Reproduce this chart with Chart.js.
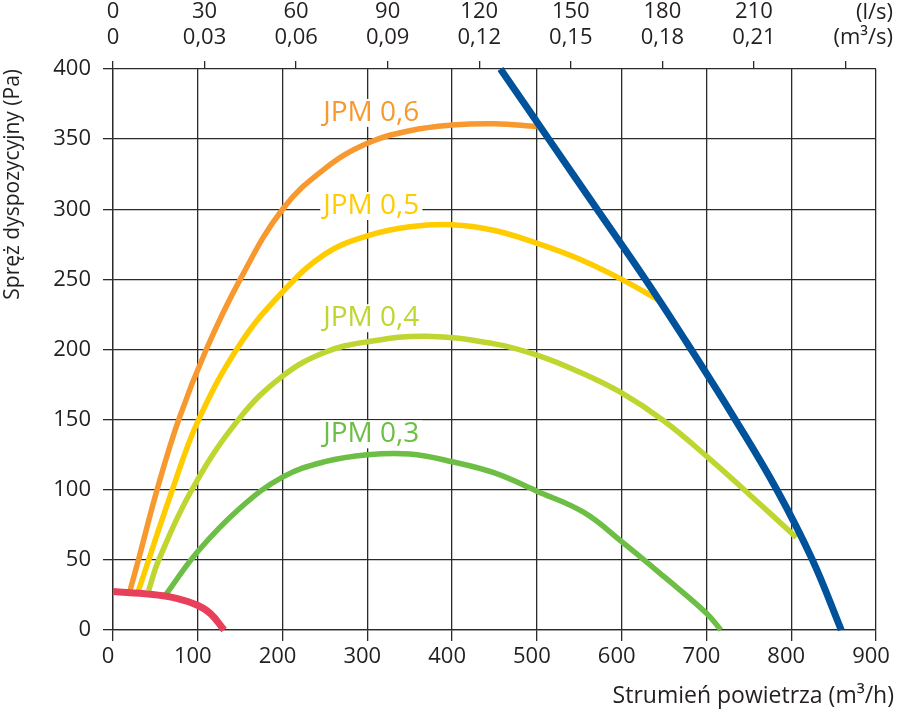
<!DOCTYPE html>
<html>
<head>
<meta charset="utf-8">
<script src="https://cdn.jsdelivr.net/npm/chart.js@4.4.1/dist/chart.umd.min.js"></script>
<style>
  html, body { margin: 0; padding: 0; background: #fff; }
  canvas { display: block; }
</style>
</head>
<body>
<canvas id="wykres" width="901" height="712"></canvas>
<script>
// krzywe wentylatora JPM (m3/h -> Pa)
const jpm06X = [20, 30, 52, 77.5, 110, 150, 200, 250, 300, 350, 400, 450, 500]
const jpm06Y = [28, 50, 100, 150, 200, 250, 300, 329, 347, 356, 360, 361, 359]

const jpm05X = [30, 70, 101, 150, 200, 250, 300, 350, 400, 449, 504, 550, 600, 646]
const jpm05Y = [28, 100, 150, 204, 241, 268, 281, 287.5, 289, 285, 275, 264.5, 250, 234.5]

const jpm04X = [42, 54, 93, 148, 200, 250, 300, 370, 450, 500, 550, 600, 650, 700, 750, 806]
const jpm04Y = [28, 50, 100, 150, 181, 198, 205.5, 209.5, 204, 196, 184, 169, 149, 124, 97, 66]

const jpm03X = [62, 100, 150, 200, 250, 300, 350, 400, 450, 500, 555, 600, 650, 700, 717]
const jpm03Y = [25, 56, 87, 109, 120, 125, 125.5, 120, 112, 99, 84, 63, 38, 12, 0]

// charakterystyka graniczna (niebieska) i dolna (czerwona)
const granicaX = [457, 514, 571, 628, 682, 734, 783, 825, 859]
const granicaY = [400, 350, 300, 250, 200, 150, 100, 50, 0]

const dolnaX = [0, 44, 75, 99, 115, 131]
const dolnaY = [27.4, 25.5, 22.6, 17.8, 11.7, 0]

// etykiety krzywych: [tekst, x, y linii bazowej, kolor]
const etykiety = [
  ['JPM 0,6', 248, 363, '#f7992f'],
  ['JPM 0,5', 248, 296.6, '#ffcc00'],
  ['JPM 0,4', 248, 216.6, '#bed62f'],
  ['JPM 0,3', 248, 133.8, '#6dbe45']
]

// górna oś: l/s oraz m3/s
const lpsWartosci = [0, 30, 60, 90, 120, 150, 180, 210, 240]
const lpsOpisy = ['0', '30', '60', '90', '120', '150', '180', '210']
const m3sOpisy = ['0', '0,03', '0,06', '0,09', '0,12', '0,15', '0,18', '0,21']

const CZCIONKA = "'Open Sans', 'DejaVu Sans', sans-serif"
const KOLOR_TEKSTU = '#231f20'
const KOLOR_SIATKI = '#2a2a2a'

function punkty(xs, ys) {
  return xs.map((x, i) => ({ x, y: ys[i] }))
}

function krzywa(xs, ys, kolor, grubosc, kolejnosc) {
  return {
    data: punkty(xs, ys),
    borderColor: kolor,
    borderWidth: grubosc,
    pointRadius: 0,
    tension: 0.4,
    clip: false,
    order: kolejnosc
  }
}

const pluginEtykiety = {
  id: 'etykiety',
  beforeDatasetsDraw(chart) {
    const { ctx, scales } = chart
    ctx.save()
    ctx.font = `28px ${CZCIONKA}`
    ctx.textBaseline = 'alphabetic'
    ctx.textAlign = 'left'
    etykiety.forEach(([tekst, x, y, kolor]) => {
      const px = scales.x.getPixelForValue(x)
      const py = scales.y.getPixelForValue(y)
      const w = ctx.measureText(tekst).width
      ctx.fillStyle = '#fff'
      ctx.fillRect(px - 3, py - 22, w + 6, 28)
      ctx.fillStyle = kolor
      ctx.fillText(tekst, px, py)
    })
    ctx.restore()
  },
  afterDraw(chart) {
    const { ctx, width, height } = chart
    ctx.save()
    ctx.fillStyle = KOLOR_TEKSTU
    ctx.textAlign = 'right'
    ctx.textBaseline = 'alphabetic'
    ctx.font = `22px ${CZCIONKA}`
    ctx.fillText('(l/s)', width - 8, 19)
    ctx.fillText('(m³/s)', width - 8, 44)
    ctx.font = `23px ${CZCIONKA}`
    ctx.fillText('Strumień powietrza (m³/h)', width - 7, height - 9)
    ctx.restore()
  }
}

new Chart(document.getElementById('wykres'), {
  type: 'line',
  data: {
    datasets: [
      krzywa(dolnaX, dolnaY, '#e8405a', 7, 0),
      krzywa(granicaX, granicaY, '#00529b', 7, 1),
      krzywa(jpm06X, jpm06Y, '#f7992f', 5.5, 2),
      krzywa(jpm05X, jpm05Y, '#ffcc00', 5.5, 3),
      krzywa(jpm04X, jpm04Y, '#bed62f', 5.5, 4),
      krzywa(jpm03X, jpm03Y, '#6dbe45', 5.5, 5)
    ]
  },
  options: {
    responsive: false,
    devicePixelRatio: 1,
    animation: false,
    layout: { padding: { left: 0, right: 25, top: 0, bottom: 0 } },
    plugins: {
      legend: { display: false },
      tooltip: { enabled: false }
    },
    scales: {
      x: {
        type: 'linear',
        position: 'bottom',
        min: 0,
        max: 900,
        ticks: {
          stepSize: 100,
          autoSkip: false,
          maxRotation: 0,
          padding: 3,
          labelOffset: -5,
          color: KOLOR_TEKSTU,
          font: { family: CZCIONKA, size: 22 }
        },
        grid: { color: KOLOR_SIATKI, lineWidth: 1.3, tickLength: 11 },
        border: { color: KOLOR_SIATKI, width: 1.3 },
        afterFit(s) { s.height = 82 }
      },
      x2: {
        type: 'linear',
        position: 'top',
        min: 0,
        max: 900,
        afterBuildTicks(s) {
          s.ticks = lpsWartosci.map((v) => ({ value: v * 3.6 }))
        },
        ticks: {
          autoSkip: false,
          maxRotation: 0,
          padding: 11,
          color: KOLOR_TEKSTU,
          font: { family: CZCIONKA, size: 22, lineHeight: 1.15 },
          callback: (v, i) => (i < lpsOpisy.length ? [lpsOpisy[i], m3sOpisy[i]] : '')
        },
        grid: { drawOnChartArea: false, color: KOLOR_SIATKI, lineWidth: 1.3, tickLength: 8 },
        border: { display: false },
        afterFit(s) { s.height = 69 }
      },
      y: {
        min: 0,
        max: 400,
        ticks: {
          stepSize: 50,
          padding: 12,
          color: KOLOR_TEKSTU,
          font: { family: CZCIONKA, size: 22 }
        },
        grid: { color: KOLOR_SIATKI, lineWidth: 1.3, tickLength: 10 },
        border: { color: KOLOR_SIATKI, width: 1.3 },
        title: {
          display: true,
          text: 'Spręż dyspozycyjny (Pa)',
          align: 'end',
          color: KOLOR_TEKSTU,
          font: { family: CZCIONKA, size: 21 },
          padding: { top: 0, bottom: 0 }
        },
        afterFit(s) { s.width = 113 }
      }
    }
  },
  plugins: [pluginEtykiety]
})
</script>
</body>
</html>
